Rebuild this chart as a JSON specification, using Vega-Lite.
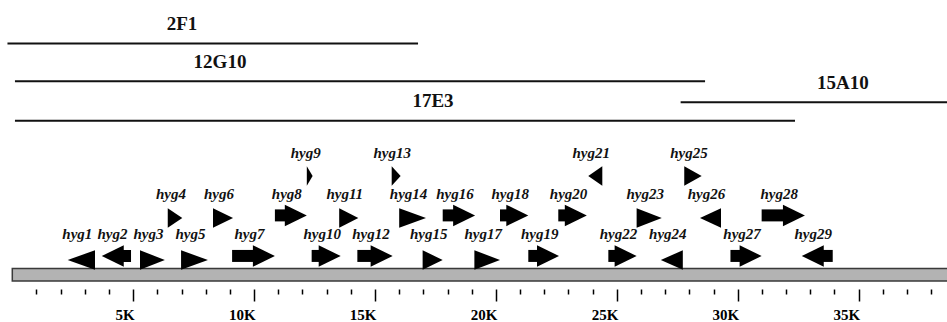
{
  "$schema": "https://vega.github.io/schema/vega-lite/v6.json",
  "width": 947,
  "height": 287,
  "autosize": {"type": "none"},
  "padding": {"left": 0, "right": 0, "top": 0, "bottom": 35},
  "background": "white",
  "config": {"view": {"stroke": null}},
  "datasets": {
    "genome": [{"name": "genome", "start": 0, "end": 39, "lane": 0.536}],
    "clones": [
      {"clone": "2F1", "start": -0.2, "end": 16.78, "lane": 6.238, "label_at": 7.02},
      {"clone": "12G10", "start": 0.11, "end": 28.65, "lane": 5.31, "label_at": 8.59},
      {"clone": "15A10", "start": 27.64, "end": 39, "lane": 4.788, "label_at": 34.35},
      {"clone": "17E3", "start": 0.11, "end": 32.37, "lane": 4.333, "label_at": 17.4}
    ],
    "genes": [
      {"gene": "hyg1", "row": 1, "strand": "-", "tail": 3.42, "tip": 2.29},
      {"gene": "hyg2", "row": 1, "strand": "-", "tail": 4.91, "tip": 3.70},
      {"gene": "hyg3", "row": 1, "strand": "+", "tail": 5.28, "tip": 6.31},
      {"gene": "hyg4", "row": 2, "strand": "+", "tail": 6.43, "tip": 7.03},
      {"gene": "hyg5", "row": 1, "strand": "+", "tail": 6.98, "tip": 8.09},
      {"gene": "hyg6", "row": 2, "strand": "+", "tail": 8.30, "tip": 9.13},
      {"gene": "hyg7", "row": 1, "strand": "+", "tail": 9.09, "tip": 10.86},
      {"gene": "hyg8", "row": 2, "strand": "+", "tail": 10.86, "tip": 12.18},
      {"gene": "hyg9", "row": 3, "strand": "+", "tail": 12.18, "tip": 12.42},
      {"gene": "hyg10", "row": 1, "strand": "+", "tail": 12.38, "tip": 13.58},
      {"gene": "hyg11", "row": 2, "strand": "+", "tail": 13.52, "tip": 14.31},
      {"gene": "hyg12", "row": 1, "strand": "+", "tail": 14.27, "tip": 15.73},
      {"gene": "hyg13", "row": 3, "strand": "+", "tail": 15.69, "tip": 16.06},
      {"gene": "hyg14", "row": 2, "strand": "+", "tail": 16.00, "tip": 17.11},
      {"gene": "hyg15", "row": 1, "strand": "+", "tail": 16.97, "tip": 17.80},
      {"gene": "hyg16", "row": 2, "strand": "+", "tail": 17.80, "tip": 19.14},
      {"gene": "hyg17", "row": 1, "strand": "+", "tail": 19.11, "tip": 20.17},
      {"gene": "hyg18", "row": 2, "strand": "+", "tail": 20.17, "tip": 21.34},
      {"gene": "hyg19", "row": 1, "strand": "+", "tail": 21.34, "tip": 22.61},
      {"gene": "hyg20", "row": 2, "strand": "+", "tail": 22.58, "tip": 23.76},
      {"gene": "hyg21", "row": 3, "strand": "-", "tail": 24.40, "tip": 23.82},
      {"gene": "hyg22", "row": 1, "strand": "+", "tail": 24.65, "tip": 25.82},
      {"gene": "hyg23", "row": 2, "strand": "+", "tail": 25.82, "tip": 26.86},
      {"gene": "hyg24", "row": 1, "strand": "-", "tail": 27.73, "tip": 26.82},
      {"gene": "hyg25", "row": 3, "strand": "+", "tail": 27.79, "tip": 28.51},
      {"gene": "hyg26", "row": 2, "strand": "-", "tail": 29.31, "tip": 28.44},
      {"gene": "hyg27", "row": 1, "strand": "+", "tail": 29.70, "tip": 30.99},
      {"gene": "hyg28", "row": 2, "strand": "+", "tail": 30.99, "tip": 32.78},
      {"gene": "hyg29", "row": 1, "strand": "-", "tail": 33.93, "tip": 32.65}
    ]
  },
  "resolve": {"scale": {"y": "independent"}, "axis": {"x": "independent"}},
  "layer": [
    {
      "resolve": {"axis": {"x": "independent"}},
      "layer": [
        {
          "data": {"name": "genome"},
          "mark": {"type": "bar", "size": 12.5, "fill": "#b3b3b3", "stroke": "#3a3a3a", "strokeWidth": 1.5},
          "encoding": {
            "x": {"field": "start", "type": "quantitative", "scale": {"domain": [-0.5087, 38.656], "nice": false, "zero": false},
                  "axis": {"orient": "bottom", "values": [1,2,3,4,5,6,7,8,9,10,11,12,13,14,15,16,17,18,19,20,21,22,23,24,25,26,27,28,29,30,31,32,33,34,35,36,37,38],
                           "tickSize": 12,
                           "tickDash": {"condition": {"test": "datum.value % 5 !== 0", "value": [5, 40]}, "value": [12, 0]},
                           "labelExpr": "datum.value % 5 === 0 ? datum.value + 'K' : ''",
                           "labelFont": "Liberation Serif", "labelFontWeight": "bold", "labelFontSize": 15, "labelColor": "#000",
                           "labelAlign": "right", "labelOffset": 1, "labelBaseline": "alphabetic",
                           "labelPadding": 18, "labelOverlap": false, "labelFlush": false,
                           "domain": false, "grid": false, "title": null, "offset": 2, "tickColor": "#000", "tickWidth": 1.5}},
            "x2": {"field": "end"},
            "y": {"field": "lane", "type": "quantitative", "scale": {"domain": [0.357, 7.190], "nice": false, "zero": false}, "axis": null}
          }
        },
        {
          "data": {"name": "clones"},
          "mark": {"type": "rule", "strokeWidth": 2, "color": "#111"},
          "encoding": {
            "x": {"field": "start", "type": "quantitative", "axis": null},
            "x2": {"field": "end"},
            "y": {"field": "lane", "type": "quantitative", "axis": null}
          }
        },
        {
          "data": {"name": "clones"},
          "mark": {"type": "text", "font": "Liberation Serif", "fontWeight": "bold", "fontSize": 19, "color": "#111", "baseline": "alphabetic", "align": "center", "dy": -13.5},
          "encoding": {
            "x": {"field": "label_at", "type": "quantitative", "axis": null},
            "y": {"field": "lane", "type": "quantitative", "axis": null},
            "text": {"field": "clone"}
          }
        },
        {
          "data": {"name": "genes"},
          "transform": [{"fold": ["tail", "tip"], "as": ["end", "pos"]}],
          "mark": {"type": "text", "font": "Liberation Serif", "fontWeight": "bold", "fontStyle": "italic", "fontSize": 15, "color": "#111", "baseline": "alphabetic", "align": "center", "dy": -16.5, "dx": -4},
          "encoding": {
            "x": {"aggregate": "mean", "field": "pos", "type": "quantitative", "axis": null},
            "y": {"field": "row", "type": "quantitative", "axis": null},
            "text": {"field": "gene"}
          }
        },
        {
          "data": {"name": "genes"},
          "transform": [{"filter": "abs(datum.tip - datum.tail) >= 1.15 && datum.strand == '+'"}],
          "mark": {"type": "bar", "size": 12, "color": "#000", "x2Offset": -19},
          "encoding": {
            "x": {"field": "tail", "type": "quantitative", "axis": null},
            "x2": {"field": "tip"},
            "y": {"field": "row", "type": "quantitative", "axis": null}
          }
        },
        {
          "data": {"name": "genes"},
          "transform": [{"filter": "abs(datum.tip - datum.tail) >= 1.15 && datum.strand == '-'"}],
          "mark": {"type": "bar", "size": 12, "color": "#000", "x2Offset": 19},
          "encoding": {
            "x": {"field": "tail", "type": "quantitative", "axis": null},
            "x2": {"field": "tip"},
            "y": {"field": "row", "type": "quantitative", "axis": null}
          }
        },
        {
          "data": {"name": "genes"},
          "transform": [{"filter": "abs(datum.tip - datum.tail) >= 1.15"}],
          "mark": {"type": "point", "filled": true, "fill": "#000", "opacity": 1, "strokeWidth": 0, "size": 1936},
          "encoding": {
            "x": {"field": "tip", "type": "quantitative", "axis": null},
            "y": {"field": "row", "type": "quantitative", "axis": null},
            "shape": {"field": "strand", "type": "nominal", "legend": null,
                      "scale": {"domain": ["+", "-"], "range": ["M0,0L-1,-0.4886L-1,0.4886Z", "M0,0L1,-0.4886L1,0.4886Z"]}}
          }
        }
      ]
    },
    {
      "data": {"name": "genes"},
      "transform": [
        {"filter": "datum.row == 1 && abs(datum.tip - datum.tail) < 1.15"},
        {"fold": ["tail", "tip"], "as": ["end", "pos"]},
        {"lookup": "end", "from": {"data": {"values": [{"end": "tail", "hi": 1, "lo": -1}, {"end": "tip", "hi": 0, "lo": 0}]}, "key": "end", "fields": ["hi", "lo"]}}
      ],
      "mark": {"type": "area", "orient": "vertical", "color": "#000", "opacity": 1},
      "encoding": {
        "x": {"field": "pos", "type": "quantitative", "axis": null},
        "y": {"field": "hi", "type": "quantitative", "stack": null, "axis": null, "scale": {"domain": [-1, 1], "range": [269.75, 250.25], "nice": false, "zero": false}},
        "y2": {"field": "lo"},
        "detail": {"field": "gene"}
      }
    },
    {
      "data": {"name": "genes"},
      "transform": [
        {"filter": "datum.row == 2 && abs(datum.tip - datum.tail) < 1.15"},
        {"fold": ["tail", "tip"], "as": ["end", "pos"]},
        {"lookup": "end", "from": {"data": {"values": [{"end": "tail", "hi": 1, "lo": -1}, {"end": "tip", "hi": 0, "lo": 0}]}, "key": "end", "fields": ["hi", "lo"]}}
      ],
      "mark": {"type": "area", "orient": "vertical", "color": "#000", "opacity": 1},
      "encoding": {
        "x": {"field": "pos", "type": "quantitative", "axis": null},
        "y": {"field": "hi", "type": "quantitative", "stack": null, "axis": null, "scale": {"domain": [-1, 1], "range": [227.75, 208.25], "nice": false, "zero": false}},
        "y2": {"field": "lo"},
        "detail": {"field": "gene"}
      }
    },
    {
      "data": {"name": "genes"},
      "transform": [
        {"filter": "datum.row == 3 && abs(datum.tip - datum.tail) < 1.15"},
        {"fold": ["tail", "tip"], "as": ["end", "pos"]},
        {"lookup": "end", "from": {"data": {"values": [{"end": "tail", "hi": 1, "lo": -1}, {"end": "tip", "hi": 0, "lo": 0}]}, "key": "end", "fields": ["hi", "lo"]}}
      ],
      "mark": {"type": "area", "orient": "vertical", "color": "#000", "opacity": 1},
      "encoding": {
        "x": {"field": "pos", "type": "quantitative", "axis": null},
        "y": {"field": "hi", "type": "quantitative", "stack": null, "axis": null, "scale": {"domain": [-1, 1], "range": [185.75, 166.25], "nice": false, "zero": false}},
        "y2": {"field": "lo"},
        "detail": {"field": "gene"}
      }
    }
  ]
}
